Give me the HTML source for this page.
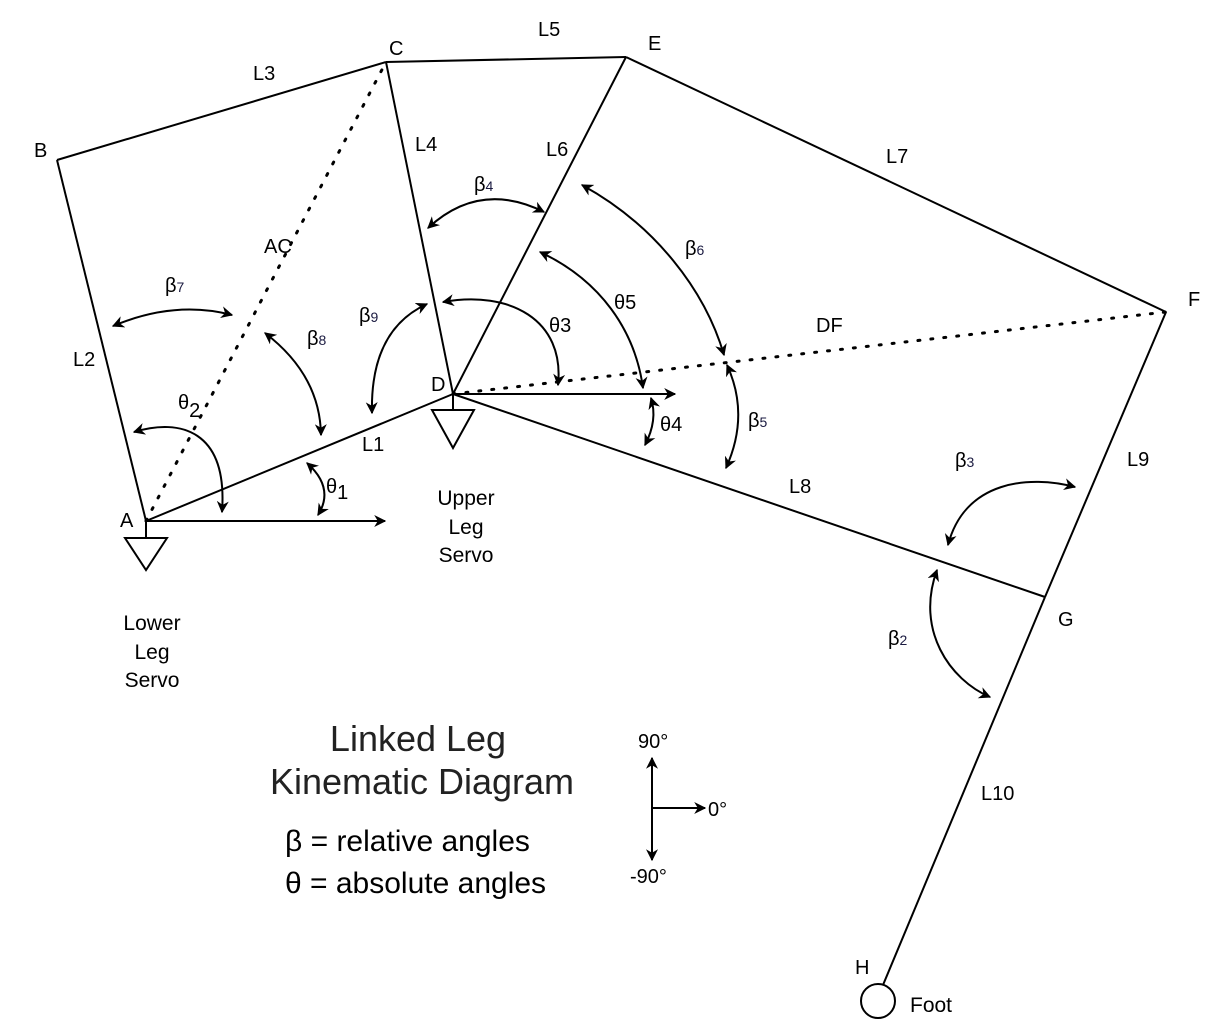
<!DOCTYPE html>
<html><head><meta charset="utf-8"><style>
html,body{margin:0;padding:0;background:#fff;}
svg{display:block;font-family:"Liberation Sans",Arial,sans-serif;}
text{fill:#000;font-size:20px;}
.sub{font-size:14px;fill:#1a1a40;}
</style></head><body>
<svg width="1226" height="1033" viewBox="0 0 1226 1033">
<defs>
<marker id="ah2" viewBox="0 0 10 10" refX="9" refY="5" markerWidth="12" markerHeight="12" orient="auto-start-reverse" markerUnits="userSpaceOnUse">
<path d="M0,0 L10,5 L0,10 L3,5 Z" fill="#000"/></marker>
</defs>
<g stroke="#000" stroke-width="2" fill="none">
<line x1="146" y1="521" x2="57" y2="160"/>
<line x1="57" y1="160" x2="386" y2="62"/>
<line x1="386" y1="62" x2="626" y2="57"/>
<line x1="386" y1="62" x2="453" y2="394"/>
<line x1="453" y1="394" x2="626" y2="57"/>
<line x1="626" y1="57" x2="1166" y2="312"/>
<line x1="1166" y1="312" x2="1045" y2="597"/>
<line x1="1045" y1="597" x2="883" y2="985"/>
<line x1="453" y1="394" x2="1045" y2="597"/>
<line x1="146" y1="521" x2="453" y2="394"/>
<line x1="146" y1="521" x2="386" y2="62" stroke-width="3" stroke-dasharray="2 11" stroke-linecap="round"/>
<line x1="453" y1="394" x2="1166" y2="312" stroke-width="3" stroke-dasharray="2 11" stroke-linecap="round"/>
<line x1="146" y1="521" x2="385" y2="521" marker-end="url(#ah2)"/>
<line x1="453" y1="394" x2="675" y2="394" marker-end="url(#ah2)"/>
<line x1="146" y1="521" x2="146" y2="538"/>
<polygon points="125,538 167,538 146,570"/>
<line x1="453" y1="394" x2="453" y2="410"/>
<polygon points="432,410 474,410 453,448"/>
<circle cx="878" cy="1001" r="17"/>
</g>
<g stroke="#000" stroke-width="2" fill="none" marker-start="url(#ah2)" marker-end="url(#ah2)">
<path d="M113,326 Q175,300 232,315"/>
<path d="M265,333 Q320,375 321,435"/>
<path d="M427,304 Q370,330 372,413"/>
<path d="M428,228 Q480,180 544,212"/>
<path d="M443,302 C510,290 565,320 558,385"/>
<path d="M540,252 C600,280 635,330 643,388"/>
<path d="M582,185 C655,225 705,290 724,355"/>
<path d="M727,365 Q750,415 726,468"/>
<path d="M651,398 Q658,420 645,445"/>
<path d="M948,545 C965,480 1030,475 1075,487"/>
<path d="M937,570 C915,630 950,680 990,697"/>
<path d="M134,432 C180,418 228,430 222,512"/>
<path d="M307,463 Q335,488 318,515"/>
</g>
<g>
<text x="120" y="527">A</text>
<text x="34" y="157">B</text>
<text x="389" y="55">C</text>
<text x="431" y="391">D</text>
<text x="648" y="50">E</text>
<text x="1188" y="306">F</text>
<text x="1058" y="626">G</text>
<text x="855" y="974">H</text>
<text x="264" y="253">AC</text>
<text x="816" y="332">DF</text>
</g>
<g>
<text x="362" y="451">L1</text>
<text x="73" y="366">L2</text>
<text x="253" y="80">L3</text>
<text x="415" y="151">L4</text>
<text x="538" y="36">L5</text>
<text x="546" y="156">L6</text>
<text x="886" y="163">L7</text>
<text x="789" y="493">L8</text>
<text x="1127" y="466">L9</text>
<text x="981" y="800">L10</text>
</g>
<g>
<text x="165" y="292">β<tspan class="sub">7</tspan></text>
<text x="307" y="345">β<tspan class="sub">8</tspan></text>
<text x="359" y="322">β<tspan class="sub">9</tspan></text>
<text x="474" y="191">β<tspan class="sub">4</tspan></text>
<text x="685" y="255">β<tspan class="sub">6</tspan></text>
<text x="748" y="427">β<tspan class="sub">5</tspan></text>
<text x="955" y="467">β<tspan class="sub">3</tspan></text>
<text x="888" y="645">β<tspan class="sub">2</tspan></text>
<text x="549" y="332">θ3</text>
<text x="614" y="309">θ5</text>
<text x="660" y="431">θ4</text>
<text x="178" y="409">θ<tspan dy="8" font-size="20">2</tspan></text>
<text x="326" y="493">θ<tspan dy="6" font-size="20">1</tspan></text>
</g>
<g text-anchor="middle" style="font-size:21px">
<text x="466" y="505" style="font-size:21px">Upper</text>
<text x="466" y="534" style="font-size:21px">Leg</text>
<text x="466" y="562" style="font-size:21px">Servo</text>
<text x="152" y="630" style="font-size:21px">Lower</text>
<text x="152" y="659" style="font-size:21px">Leg</text>
<text x="152" y="687" style="font-size:21px">Servo</text>
</g>
<text x="910" y="1012" style="font-size:21px">Foot</text>
<g text-anchor="middle">
<text x="418" y="751" style="font-size:36px;fill:#222">Linked Leg</text>
<text x="422" y="794" style="font-size:36px;fill:#222">Kinematic Diagram</text>
</g>
<text x="285" y="851" style="font-size:30px">β = relative angles</text>
<text x="285" y="893" style="font-size:30px">θ = absolute angles</text>
<g stroke="#000" stroke-width="2">
<line x1="652" y1="808" x2="652" y2="758" marker-end="url(#ah2)"/>
<line x1="652" y1="808" x2="652" y2="860" marker-end="url(#ah2)"/>
<line x1="652" y1="808" x2="705" y2="808" marker-end="url(#ah2)"/>
</g>
<text x="638" y="748">90°</text>
<text x="708" y="816">0°</text>
<text x="630" y="883">-90°</text>
</svg>
</body></html>
